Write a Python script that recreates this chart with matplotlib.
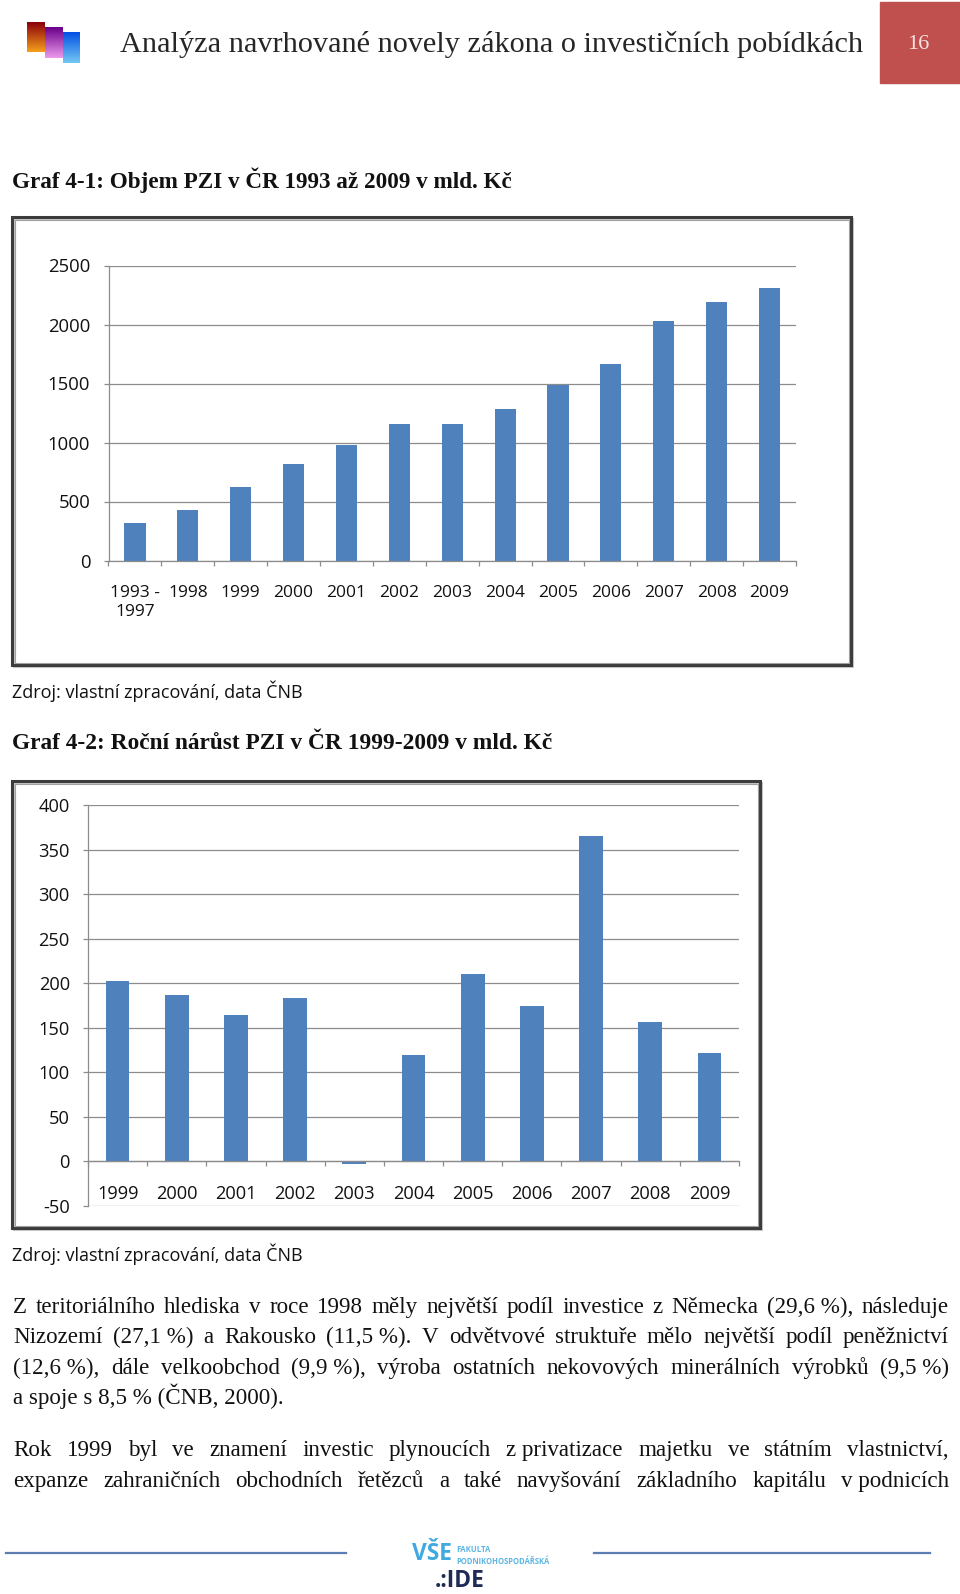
import numpy as np
import matplotlib
matplotlib.use("Agg")
import matplotlib.pyplot as plt
from matplotlib.patches import Rectangle
from matplotlib import font_manager

W, H = 960, 1594

# data graf 4-1 (objem PZI, mld. Kč)
roky1 = ['1993 -\n1997', '1998', '1999', '2000', '2001', '2002', '2003',
         '2004', '2005', '2006', '2007', '2008', '2009']
objem = [316, 426, 626, 820, 978, 1161, 1161, 1280, 1491, 1666, 2029, 2187, 2308]

# data graf 4-2 (rocni narust PZI, mld. Kč)
roky2 = ['1999', '2000', '2001', '2002', '2003', '2004', '2005', '2006',
         '2007', '2008', '2009']
narust = [202, 187, 164, 183, -3, 119, 210, 175, 365, 157, 122]

odst1 = ["Z teritoriálního hlediska v roce 1998 měly největší podíl investice z Německa (29,6\u00a0%), následuje",
         "Nizozemí (27,1\u00a0%) a Rakousko (11,5\u00a0%). V odvětvové struktuře mělo největší podíl peněžnictví",
         "(12,6\u00a0%), dále velkoobchod (9,9\u00a0%), výroba ostatních nekovových minerálních výrobků (9,5\u00a0%)"]
odst1_konec = "a spoje s 8,5 % (ČNB, 2000)."
odst2 = ["Rok 1999 byl ve znamení investic plynoucích z\u00a0privatizace majetku ve státním vlastnictví,",
         "expanze zahraničních obchodních řetězců a také navyšování základního kapitálu v\u00a0podnicích"]

plt.rcParams['axes.unicode_minus'] = False
names = {f.name for f in font_manager.fontManager.ttflist}
SERIF = 'Liberation Serif'
SANS = 'Liberation Sans Narrow' if 'Liberation Sans Narrow' in names else 'Open Sans'
MODRA = '#4F81BD'
SEDA = '#8C8C8C'
CERNA = '#111111'

fig = plt.figure(figsize=(W / 100, H / 100), dpi=100)
page = fig.add_axes([0, 0, 1, 1])
page.set_xlim(0, W)
page.set_ylim(H, 0)
page.set_autoscale_on(False)
page.axis('off')
r = fig.canvas.get_renderer()


def sirka(t):
    return t.get_window_extent(r).width


def velikost(s, w, **kw):
    t = page.text(0, 0, s, fontsize=10, **kw)
    fs = 10 * w / sirka(t)
    t.remove()
    return fs


# text roztazeny na danou sirku (zmena velikosti pisma)
def fit(x, y, s, w, **kw):
    return page.text(x, y, s, fontsize=velikost(s, w, **kw), **kw)


def zarovnat(y, radek, x0, x1, fs):
    slova = radek.split(' ')
    tt = [page.text(0, y, s, fontsize=fs, family=SERIF, va='baseline', color=CERNA) for s in slova]
    ww = [sirka(t) for t in tt]
    mezera = (x1 - x0 - sum(ww)) / (len(slova) - 1)
    x = x0
    for t, w in zip(tt, ww):
        t.set_x(x)
        x += w + mezera


# --- hlavicka ---
def prechod(x0, y0, x1, y1, c_top, c_bot):
    g = np.linspace(0, 1, 30)[:, None, None]
    img = np.array(c_top)[None, None, :] * (1 - g) + np.array(c_bot)[None, None, :] * g
    img = np.repeat(img, 2, axis=1)
    page.imshow(img, extent=(x0, x1, y1, y0), aspect='auto', interpolation='bilinear', zorder=2)


prechod(27, 22, 45, 52, (0.55, 0.0, 0.05), (0.95, 0.62, 0.1))
prechod(45, 27, 63, 58, (0.42, 0.0, 0.55), (0.92, 0.6, 0.92))
prechod(63, 32, 80, 63, (0.02, 0.32, 0.9), (0.45, 0.78, 0.95))

fit(120, 44, 'Analýza navrhované novely zákona o investičních pobídkách', 746,
    family=SERIF, va='center', color='#262626')
page.add_patch(Rectangle((880, 2), 80, 81, color='#C0504D', zorder=1))
page.text(918, 44, '16', fontsize=16, family=SERIF, color='#F6E4E3', ha='center', va='center')

# --- nadpisy a zdroje ---
fit(12, 180, 'Graf 4-1: Objem PZI v ČR 1993 až 2009 v mld. Kč', 500,
    family=SERIF, weight='bold', va='center', color=CERNA)
fit(12, 691, 'Zdroj: vlastní zpracování, data ČNB', 290, family=SANS, va='center', color=CERNA)
fit(12, 743, 'Graf 4-2: Roční nárůst PZI v ČR 1999-2009 v mld. Kč', 540,
    family=SERIF, weight='bold', va='center', color=CERNA)
fit(12, 1254, 'Zdroj: vlastní zpracování, data ČNB', 290, family=SANS, va='center', color=CERNA)

# ramecky grafu
for x0, y0, x1, y1 in [(12, 217, 851, 665), (12, 781, 760, 1228)]:
    page.add_patch(Rectangle((x0 + 2, y0 + 2), x1 - x0, y1 - y0, fill=False, ec='#C8C8C8', lw=1.5))
    page.add_patch(Rectangle((x0, y0), x1 - x0, y1 - y0, fill=False, ec='#3C3C3C', lw=2.2))
    page.add_patch(Rectangle((x0 + 2.5, y0 + 2.5), x1 - x0 - 5, y1 - y0 - 5, fill=False, ec='#A0A0A0', lw=0.8))


def osy(x0, y0, x1, y1):
    return fig.add_axes([x0 / W, 1 - y1 / H, (x1 - x0) / W, (y1 - y0) / H])


def styl(ax, n, fs_y, fs_x, stred_x):
    # stred_x = vzdalenost stredu popisku osy x od osy (px)
    pad_x = (stred_x - 0.36 * fs_x * 100 / 72) * 72 / 100
    for s in ['top', 'right']:
        ax.spines[s].set_visible(False)
    ax.spines['left'].set_color(SEDA)
    ax.spines['bottom'].set_color(SEDA)
    ax.spines['left'].set_linewidth(0.9)
    ax.spines['bottom'].set_linewidth(0.9)
    ax.yaxis.grid(True, color=SEDA, lw=0.9)
    ax.set_axisbelow(True)
    ax.patch.set_alpha(0)
    ax.set_xlim(-0.5, n - 0.5)
    ax.set_xticks(np.arange(n + 1) - 0.5, minor=True)
    ax.tick_params(axis='y', length=3.6, color=SEDA, width=0.9, pad=9.5, labelsize=fs_y)
    ax.tick_params(axis='x', which='major', length=0, pad=pad_x, labelsize=fs_x)
    ax.tick_params(axis='x', which='minor', length=3.6, color=SEDA, width=0.9)
    for t in ax.get_xticklabels() + ax.get_yticklabels():
        t.set_family(SANS)
        t.set_color(CERNA)


# --- graf 4-1 ---
ax1 = osy(108.5, 265.5, 796, 560.5)
ax1.bar(np.arange(len(objem)), objem, width=0.4, color=MODRA)
ax1.set_ylim(0, 2500)
ax1.set_yticks(np.arange(0, 2501, 500))
ax1.set_xticks(np.arange(len(roky1)))
ax1.set_xticklabels(roky1, va='top', ha='center', multialignment='center')
styl(ax1, len(objem), velikost('2500', 42.5, family=SANS), velikost('2000', 40, family=SANS), 31)

# --- graf 4-2 ---
ax2 = osy(88, 805, 739, 1206)
ax2.bar(np.arange(len(narust)), narust, width=0.4, color=MODRA)
ax2.set_ylim(-50, 400)
ax2.set_yticks(np.arange(-50, 401, 50))
ax2.set_xticks(np.arange(len(roky2)))
ax2.set_xticklabels(roky2)
ax2.spines['bottom'].set_position(('data', 0))
fs2 = velikost('2000', 42, family=SANS)
styl(ax2, len(narust), fs2, fs2, 30)

# --- text ---
fs = velikost(odst1_konec, 270, family=SERIF)
dy = 0.33 * fs * 100 / 72 - 2
page.text(13, 1398 + dy, odst1_konec, fontsize=fs, family=SERIF, va='baseline', color=CERNA)
for y, radek in zip([1307, 1337, 1368], odst1):
    zarovnat(y + dy, radek, 13, 949, fs)
for y, radek in zip([1450, 1481], odst2):
    zarovnat(y + dy, radek, 13, 949, fs)

# --- paticka ---
page.plot([6, 346], [1553, 1553], color='#5B7DB1', lw=1.6)
page.plot([594, 930], [1553, 1553], color='#5B7DB1', lw=1.6)
fit(412, 1554, 'VŠE', 40, family=SANS, weight='bold', va='center', color='#3FA9E0')
fit(456, 1550, 'FAKULTA', 34, family=SANS, weight='bold', va='center', color='#5BB5E5')
fit(456, 1561, 'PODNIKOHOSPODÁŘSKÁ', 93, family=SANS, weight='bold', va='center', color='#5BB5E5')
fit(435, 1581, '.:IDE', 50, family=SANS, weight='bold', va='center', color='#1F2A55')

fig.savefig('out.png', dpi=100)
